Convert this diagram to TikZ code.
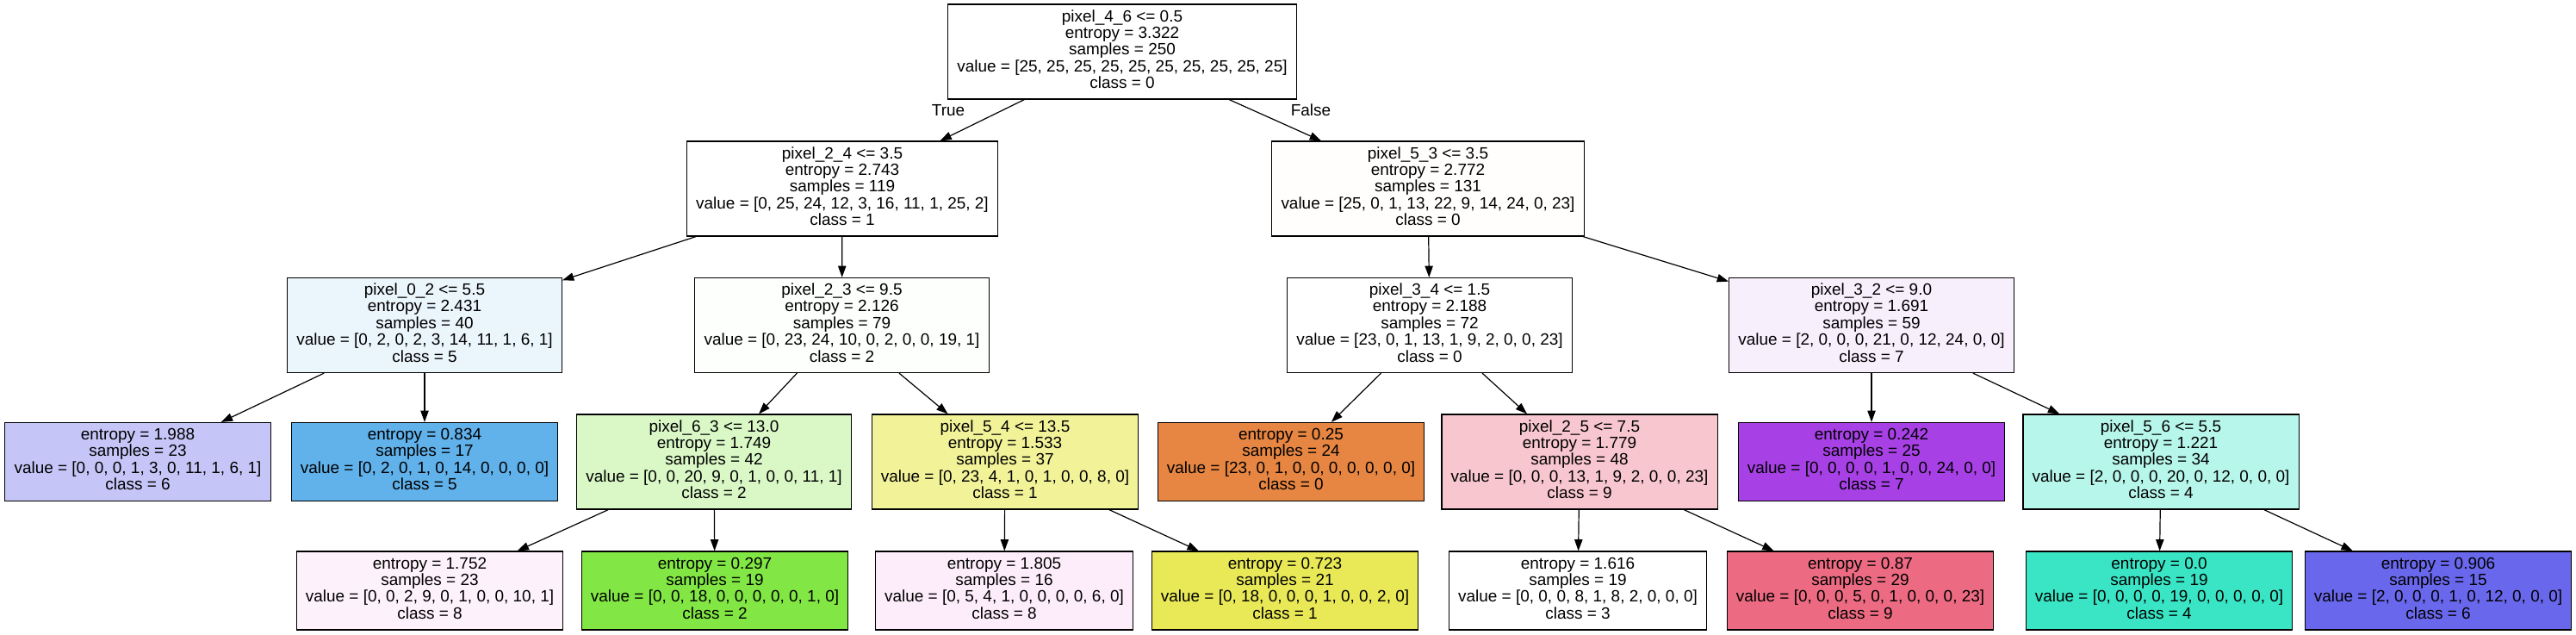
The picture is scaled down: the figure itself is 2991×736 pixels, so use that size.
\documentclass[tikz,border=0pt]{standalone}
\usepackage{fontspec}
\setmainfont{Liberation Sans}
\usetikzlibrary{arrows.meta}
\definecolor{cw}{HTML}{FFFFFF}
\definecolor{c2}{HTML}{FFFEFD}
\definecolor{c3}{HTML}{EBF5FC}
\definecolor{c4}{HTML}{FDFFFC}
\definecolor{c6}{HTML}{F8EFFD}
\definecolor{c7}{HTML}{C6C5F7}
\definecolor{c8}{HTML}{61B1EA}
\definecolor{c9}{HTML}{D9F8C6}
\definecolor{c10}{HTML}{F2F299}
\definecolor{c11}{HTML}{E68642}
\definecolor{c12}{HTML}{F8C6CF}
\definecolor{c13}{HTML}{A741E6}
\definecolor{c14}{HTML}{B7F6EA}
\definecolor{c15}{HTML}{FDF1FB}
\definecolor{c16}{HTML}{82E744}
\definecolor{c17}{HTML}{FDEDFA}
\definecolor{c18}{HTML}{E9E958}
\definecolor{c20}{HTML}{EC6B82}
\definecolor{c21}{HTML}{39E5C5}
\definecolor{c22}{HTML}{6967EB}
\begin{document}
\begin{tikzpicture}[x=0.75pt,y=-0.75pt,
  box/.style={draw=black, line width=0.9pt, rectangle, align=center,
    inner xsep=8pt, inner ysep=0pt, minimum height=82.5pt,
    font=\fontsize{14.22pt}{14.6pt}\selectfont,
    execute at begin node=\strut, execute at end node=\strut},
  leafbox/.style={box, minimum height=68.25pt},
  lbl/.style={font=\fontsize{14.22pt}{14.6pt}\selectfont, inner sep=0pt},
  edge/.style={draw=black, line width=0.9pt, -{Triangle[length=10pt,width=7pt]}}]
\path[use as bounding box, fill=white] (0,0) rectangle (2991,736);
% level 0
\node[box, fill=cw] (n0) at (1303,60) {pixel\_4\_6 <= 0.5\\entropy = 3.322\\samples = 250\\value = [25, 25, 25, 25, 25, 25, 25, 25, 25, 25]\\class = 0};
% level 1
\node[box, fill=cw] (n1) at (978,219) {pixel\_2\_4 <= 3.5\\entropy = 2.743\\samples = 119\\value = [0, 25, 24, 12, 3, 16, 11, 1, 25, 2]\\class = 1};
\node[box, fill=c2] (n2) at (1658,219) {pixel\_5\_3 <= 3.5\\entropy = 2.772\\samples = 131\\value = [25, 0, 1, 13, 22, 9, 14, 24, 0, 23]\\class = 0};
% level 2
\node[box, fill=c3] (n3) at (493,377.5) {pixel\_0\_2 <= 5.5\\entropy = 2.431\\samples = 40\\value = [0, 2, 0, 2, 3, 14, 11, 1, 6, 1]\\class = 5};
\node[box, fill=c4] (n4) at (977.5,377.5) {pixel\_2\_3 <= 9.5\\entropy = 2.126\\samples = 79\\value = [0, 23, 24, 10, 0, 2, 0, 0, 19, 1]\\class = 2};
\node[box, fill=cw] (n5) at (1660,377.5) {pixel\_3\_4 <= 1.5\\entropy = 2.188\\samples = 72\\value = [23, 0, 1, 13, 1, 9, 2, 0, 0, 23]\\class = 0};
\node[box, fill=c6] (n6) at (2173,377.5) {pixel\_3\_2 <= 9.0\\entropy = 1.691\\samples = 59\\value = [2, 0, 0, 0, 21, 0, 12, 24, 0, 0]\\class = 7};
% level 3
\node[leafbox, fill=c7] (n7) at (160,536) {entropy = 1.988\\samples = 23\\value = [0, 0, 0, 1, 3, 0, 11, 1, 6, 1]\\class = 6};
\node[leafbox, fill=c8] (n8) at (493,536) {entropy = 0.834\\samples = 17\\value = [0, 2, 0, 1, 0, 14, 0, 0, 0, 0]\\class = 5};
\node[box, fill=c9] (n9) at (829,536) {pixel\_6\_3 <= 13.0\\entropy = 1.749\\samples = 42\\value = [0, 0, 20, 9, 0, 1, 0, 0, 11, 1]\\class = 2};
\node[box, fill=c10] (n10) at (1167,536) {pixel\_5\_4 <= 13.5\\entropy = 1.533\\samples = 37\\value = [0, 23, 4, 1, 0, 1, 0, 0, 8, 0]\\class = 1};
\node[leafbox, fill=c11] (n11) at (1499,536) {entropy = 0.25\\samples = 24\\value = [23, 0, 1, 0, 0, 0, 0, 0, 0, 0]\\class = 0};
\node[box, fill=c12] (n12) at (1834,536) {pixel\_2\_5 <= 7.5\\entropy = 1.779\\samples = 48\\value = [0, 0, 0, 13, 1, 9, 2, 0, 0, 23]\\class = 9};
\node[leafbox, fill=c13] (n13) at (2173,536) {entropy = 0.242\\samples = 25\\value = [0, 0, 0, 0, 1, 0, 0, 24, 0, 0]\\class = 7};
\node[box, fill=c14] (n14) at (2509,536) {pixel\_5\_6 <= 5.5\\entropy = 1.221\\samples = 34\\value = [2, 0, 0, 0, 20, 0, 12, 0, 0, 0]\\class = 4};
% level 4
\node[leafbox, fill=c15] (n15) at (499,685.5) {entropy = 1.752\\samples = 23\\value = [0, 0, 2, 9, 0, 1, 0, 0, 10, 1]\\class = 8};
\node[leafbox, fill=c16] (n16) at (830,685.5) {entropy = 0.297\\samples = 19\\value = [0, 0, 18, 0, 0, 0, 0, 0, 1, 0]\\class = 2};
\node[leafbox, fill=c17] (n17) at (1166,685.5) {entropy = 1.805\\samples = 16\\value = [0, 5, 4, 1, 0, 0, 0, 0, 6, 0]\\class = 8};
\node[leafbox, fill=c18] (n18) at (1492,685.5) {entropy = 0.723\\samples = 21\\value = [0, 18, 0, 0, 0, 1, 0, 0, 2, 0]\\class = 1};
\node[leafbox, fill=cw] (n19) at (1832,685.5) {entropy = 1.616\\samples = 19\\value = [0, 0, 0, 8, 1, 8, 2, 0, 0, 0]\\class = 3};
\node[leafbox, fill=c20] (n20) at (2160,685.5) {entropy = 0.87\\samples = 29\\value = [0, 0, 0, 5, 0, 1, 0, 0, 0, 23]\\class = 9};
\node[leafbox, fill=c21] (n21) at (2507,685.5) {entropy = 0.0\\samples = 19\\value = [0, 0, 0, 0, 19, 0, 0, 0, 0, 0]\\class = 4};
\node[leafbox, fill=c22] (n22) at (2831,685.5) {entropy = 0.906\\samples = 15\\value = [2, 0, 0, 0, 1, 0, 12, 0, 0, 0]\\class = 6};
% labels
\node[lbl] (tlab) at (1101,128) {True};
\node[lbl] (flab) at (1522,128) {False};
% edges
\draw[edge] (n0) -- (n1);
\draw[edge] (n0) -- (n2);
\draw[edge] (n1) -- (n3);
\draw[edge] (n1) -- (n4);
\draw[edge] (n2) -- (n5);
\draw[edge] (n2) -- (n6);
\draw[edge] (n3) -- (n7);
\draw[edge] (n3) -- (n8);
\draw[edge] (n4) -- (n9);
\draw[edge] (n4) -- (n10);
\draw[edge] (n5) -- (n11);
\draw[edge] (n5) -- (n12);
\draw[edge] (n6) -- (n13);
\draw[edge] (n6) -- (n14);
\draw[edge] (n9) -- (n15);
\draw[edge] (n9) -- (n16);
\draw[edge] (n10) -- (n17);
\draw[edge] (n10) -- (n18);
\draw[edge] (n12) -- (n19);
\draw[edge] (n12) -- (n20);
\draw[edge] (n14) -- (n21);
\draw[edge] (n14) -- (n22);
\end{tikzpicture}
\end{document}
